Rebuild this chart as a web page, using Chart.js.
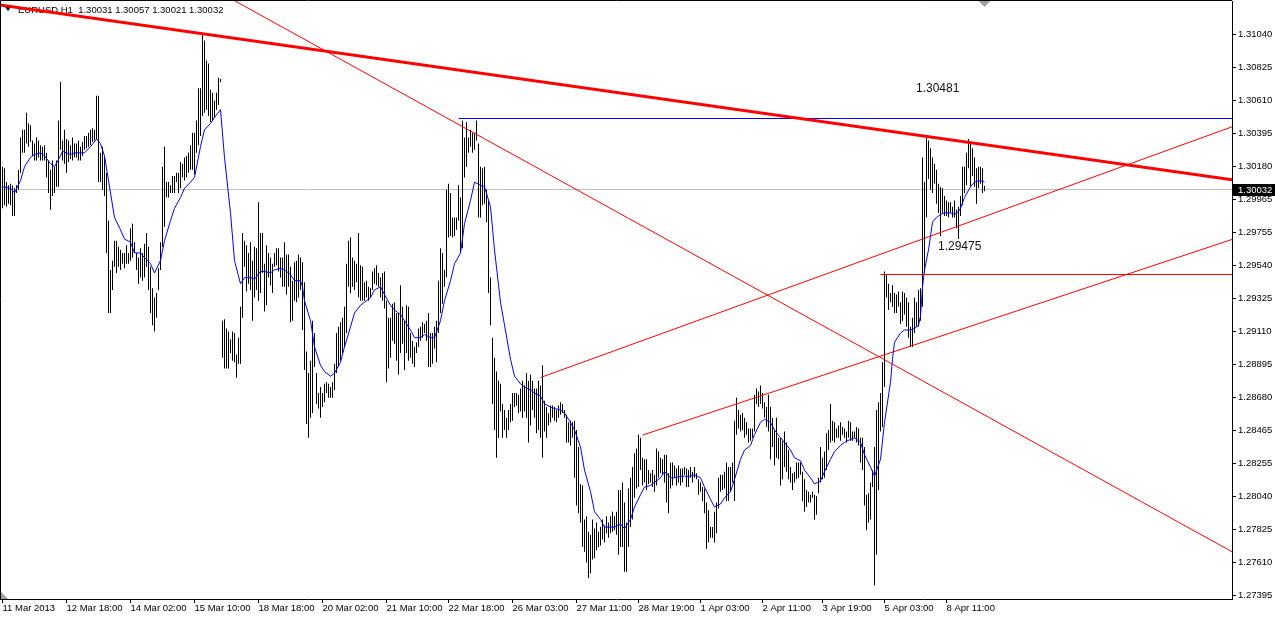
<!DOCTYPE html>
<html>
<head>
<meta charset="utf-8">
<title>EURUSD,H1</title>
<script src="https://cdn.jsdelivr.net/npm/chart.js@4.4.1/dist/chart.umd.min.js"></script>
<style>
  html, body { margin: 0; padding: 0; background: #fff; }
  #wrap { width: 1275px; height: 617px; }
</style>
</head>
<body>
<div id="wrap"><canvas id="chart" width="1275" height="617"></canvas></div>
<script>
const symbol = "EURUSD,H1";
// open, high, low, close of the last bar
const lastOHLC = [1.30031, 1.30057, 1.30021, 1.30032];

// hourly bars, index 0 = 11 Mar 2013 00:00
const highs = [
    1.3018, 1.3017, 1.3008, 1.3006, 1.3007, 1.3006, 1.3004, 1.3006, 1.3016, 1.3037,
    1.3042, 1.3042, 1.3053, 1.3046, 1.3045, 1.3035, 1.3033, 1.3037, 1.3035, 1.3032,
    1.3031, 1.3032, 1.3027, 1.3022, 1.3016, 1.3022, 1.3018, 1.3022, 1.3048, 1.3073,
    1.3035, 1.3042, 1.3036, 1.3035, 1.3032, 1.3037, 1.3033, 1.3033, 1.3035, 1.3031,
    1.3034, 1.3038, 1.3038, 1.3040, 1.3042, 1.3043, 1.3042, 1.3064, 1.3064, 1.3027,
    1.3031, 1.3024, 1.3014, 1.2983, 1.2951, 1.2957, 1.2970, 1.2970, 1.2966, 1.2964,
    1.2962, 1.2962, 1.2967, 1.2962, 1.2978, 1.2981, 1.2969, 1.2962, 1.2959, 1.2965,
    1.2962, 1.2968, 1.2975, 1.2966, 1.2953, 1.2939, 1.2933, 1.2936, 1.2952, 1.2969,
    1.3018, 1.3031, 1.3008, 1.3008, 1.3006, 1.3012, 1.3012, 1.3014, 1.3014, 1.3021,
    1.3020, 1.3024, 1.3025, 1.3027, 1.3032, 1.3040, 1.3040, 1.3048, 1.3069, 1.3069,
    1.3104, 1.3100, 1.3087, 1.3085, 1.3068, 1.3066, 1.3061, 1.3066, 1.3076, 1.3075,
    1.2918, 1.2919, 1.2913, 1.2911, 1.2906, 1.2911, 1.2910, 1.2896, 1.2907, 1.2927,
    1.2975, 1.2970, 1.2967, 1.2962, 1.2969, 1.2957, 1.2966, 1.2965, 1.2995, 1.2975,
    1.2975, 1.2955, 1.2967, 1.2962, 1.2959, 1.2955, 1.2962, 1.2965, 1.2965, 1.2959,
    1.2959, 1.2969, 1.2961, 1.2961, 1.2953, 1.2944, 1.2956, 1.2957, 1.2961, 1.2959,
    1.2956, 1.2943, 1.2898, 1.2884, 1.2892, 1.2918, 1.2910, 1.2884, 1.2871, 1.2875,
    1.2871, 1.2877, 1.2878, 1.2877, 1.2875, 1.2878, 1.2890, 1.2910, 1.2914, 1.2917,
    1.2920, 1.2927, 1.2955, 1.2970, 1.2972, 1.2959, 1.2957, 1.2955, 1.2975, 1.2954,
    1.2953, 1.2943, 1.2944, 1.2940, 1.2939, 1.2950, 1.2952, 1.2954, 1.2949, 1.2946,
    1.2949, 1.2950, 1.2931, 1.2920, 1.2920, 1.2929, 1.2930, 1.2923, 1.2923, 1.2941,
    1.2927, 1.2918, 1.2928, 1.2927, 1.2910, 1.2905, 1.2901, 1.2904, 1.2913, 1.2914,
    1.2917, 1.2916, 1.2918, 1.2923, 1.2910, 1.2910, 1.2914, 1.2918, 1.2944, 1.2965,
    1.2962, 1.2951, 1.3003, 1.3007, 1.3001, 1.2985, 1.2985, 1.2985, 1.3006, 1.2998,
    1.3048, 1.3037, 1.3047, 1.3037, 1.3042, 1.3040, 1.3040, 1.3048, 1.3033, 1.3018,
    1.3017, 1.3018, 1.3003, 1.2996, 1.2946, 1.2907, 1.2894, 1.2885, 1.2879, 1.2877,
    1.2864, 1.2860, 1.2855, 1.2860, 1.2864, 1.2871, 1.2871, 1.2871, 1.2870, 1.2874,
    1.2879, 1.2876, 1.2884, 1.2879, 1.2883, 1.2879, 1.2874, 1.2874, 1.2879, 1.2876,
    1.2889, 1.2866, 1.2862, 1.2858, 1.2863, 1.2863, 1.2862, 1.2860, 1.2863, 1.2865,
    1.2864, 1.2860, 1.2857, 1.2852, 1.2853, 1.2852, 1.2853, 1.2847, 1.2836, 1.2812,
    1.2811, 1.2789, 1.2791, 1.2781, 1.2779, 1.2789, 1.2783, 1.2787, 1.2781, 1.2784,
    1.2789, 1.2785, 1.2791, 1.2787, 1.2791, 1.2794, 1.2791, 1.2794, 1.2808, 1.2808,
    1.2813, 1.2800, 1.2787, 1.2809, 1.2816, 1.2823, 1.2832, 1.2835, 1.2844, 1.2842,
    1.2829, 1.2828, 1.2828, 1.2821, 1.2819, 1.2821, 1.2818, 1.2835, 1.2833, 1.2829,
    1.2828, 1.2831, 1.2831, 1.2819, 1.2826, 1.2826, 1.2824, 1.2822, 1.2824, 1.2822,
    1.2822, 1.2823, 1.2822, 1.2821, 1.2823, 1.2820, 1.2823, 1.2819, 1.2815, 1.2813,
    1.2810, 1.2809, 1.2800, 1.2795, 1.2784, 1.2784, 1.2794, 1.2800, 1.2816, 1.2818,
    1.2818, 1.2820, 1.2826, 1.2823, 1.2823, 1.2826, 1.2853, 1.2868, 1.2860, 1.2857,
    1.2858, 1.2855, 1.2852, 1.2848, 1.2848, 1.2848, 1.2870, 1.2874, 1.2872, 1.2876,
    1.2871, 1.2865, 1.2862, 1.2870, 1.2862, 1.2855, 1.2847, 1.2855, 1.2842, 1.2842,
    1.2840, 1.2846, 1.2839, 1.2834, 1.2823, 1.2819, 1.2820, 1.2826, 1.2826, 1.2826,
    1.2820, 1.2815, 1.2808, 1.2807, 1.2805, 1.2807, 1.2805, 1.2804, 1.2816, 1.2836,
    1.2829, 1.2833, 1.2845, 1.2847, 1.2864, 1.2853, 1.2852, 1.2848, 1.2850, 1.2852,
    1.2849, 1.2848, 1.2846, 1.2853, 1.2852, 1.2846, 1.2846, 1.2849, 1.2848, 1.2842,
    1.2842, 1.2836, 1.2805, 1.2806, 1.2813, 1.2821, 1.2836, 1.2860, 1.2865, 1.2871,
    1.2891, 1.2950, 1.2948, 1.2942, 1.2936, 1.2941, 1.2936, 1.2935, 1.2937, 1.2930,
    1.2937, 1.2936, 1.2933, 1.2930, 1.2914, 1.2920, 1.2933, 1.2930, 1.2938, 1.2939,
    1.3024, 1.3008, 1.3038, 1.3035, 1.3030, 1.3024, 1.3020, 1.3016, 1.3007, 1.3005,
    1.3004, 1.2999, 1.2996, 1.2995, 1.2995, 1.2992, 1.2996, 1.2990, 1.2992, 1.2999,
    1.3018, 1.3018, 1.3027, 1.3036, 1.3033, 1.3030, 1.3024, 1.3017, 1.3018, 1.3018,
    1.3017, 1.30057
];
const lows = [
    1.2991, 1.2993, 1.2992, 1.2994, 1.2993, 1.2986, 1.2986, 1.3001, 1.3003, 1.3014,
    1.3027, 1.3027, 1.3033, 1.3031, 1.3034, 1.3025, 1.3022, 1.3022, 1.3024, 1.3022,
    1.3022, 1.3022, 1.3011, 1.3001, 1.2990, 1.2999, 1.3001, 1.3005, 1.3005, 1.3029,
    1.3022, 1.3020, 1.3014, 1.3021, 1.3023, 1.3022, 1.3024, 1.3024, 1.3022, 1.3022,
    1.3025, 1.3029, 1.3030, 1.3031, 1.3032, 1.3034, 1.3035, 1.3036, 1.3008, 1.3008,
    1.3003, 1.2999, 1.2962, 1.2923, 1.2923, 1.2938, 1.2953, 1.2949, 1.2953, 1.2951,
    1.2955, 1.2952, 1.2955, 1.2955, 1.2957, 1.2959, 1.2962, 1.2951, 1.2942, 1.2946,
    1.2944, 1.2946, 1.2953, 1.2938, 1.2923, 1.2915, 1.2911, 1.2920, 1.2938, 1.2951,
    1.2966, 1.2979, 1.2998, 1.2998, 1.3001, 1.3001, 1.3001, 1.3008, 1.3001, 1.3004,
    1.3011, 1.3009, 1.3011, 1.3014, 1.3016, 1.3016, 1.3013, 1.3027, 1.3032, 1.3038,
    1.3051, 1.3053, 1.3055, 1.3051, 1.3047, 1.3048, 1.3050, 1.3055, 1.3058, 1.3073,
    1.2894, 1.2887, 1.2887, 1.2887, 1.2897, 1.2892, 1.2891, 1.2881, 1.2890, 1.2890,
    1.2920, 1.2953, 1.2937, 1.2942, 1.2938, 1.2918, 1.2933, 1.2938, 1.2931, 1.2936,
    1.2949, 1.2924, 1.2928, 1.2946, 1.2941, 1.2936, 1.2953, 1.2954, 1.2950, 1.2946,
    1.2940, 1.2940, 1.2935, 1.2940, 1.2917, 1.2918, 1.2931, 1.2930, 1.2933, 1.2938,
    1.2912, 1.2886, 1.2851, 1.2842, 1.2855, 1.2858, 1.2888, 1.2864, 1.2861, 1.2855,
    1.2862, 1.2865, 1.2871, 1.2868, 1.2868, 1.2868, 1.2873, 1.2884, 1.2888, 1.2892,
    1.2897, 1.2901, 1.2910, 1.2940, 1.2936, 1.2940, 1.2938, 1.2943, 1.2933, 1.2931,
    1.2931, 1.2931, 1.2933, 1.2931, 1.2933, 1.2938, 1.2942, 1.2941, 1.2940, 1.2933,
    1.2931, 1.2926, 1.2878, 1.2887, 1.2894, 1.2905, 1.2903, 1.2892, 1.2883, 1.2897,
    1.2903, 1.2886, 1.2897, 1.2892, 1.2894, 1.2890, 1.2888, 1.2897, 1.2901, 1.2905,
    1.2907, 1.2910, 1.2905, 1.2888, 1.2888, 1.2890, 1.2900, 1.2891, 1.2910, 1.2923,
    1.2929, 1.2940, 1.2946, 1.2972, 1.2973, 1.2972, 1.2973, 1.2977, 1.2983, 1.2962,
    1.2965, 1.3011, 1.3018, 1.3027, 1.3031, 1.3027, 1.3029, 1.3035, 1.2985, 1.2985,
    1.2993, 1.2994, 1.2982, 1.2936, 1.2915, 1.2864, 1.2847, 1.2829, 1.2842, 1.2859,
    1.2842, 1.2847, 1.2842, 1.2847, 1.2852, 1.2853, 1.2862, 1.2863, 1.2858, 1.2859,
    1.2855, 1.2859, 1.2855, 1.2839, 1.2850, 1.2860, 1.2855, 1.2845, 1.2847, 1.2842,
    1.2829, 1.2846, 1.2842, 1.2850, 1.2852, 1.2855, 1.2853, 1.2852, 1.2855, 1.2857,
    1.2858, 1.2855, 1.2839, 1.2839, 1.2837, 1.2842, 1.2816, 1.2798, 1.2793, 1.2787,
    1.2771, 1.2768, 1.2761, 1.2751, 1.2754, 1.2763, 1.2764, 1.2769, 1.2771, 1.2772,
    1.2776, 1.2774, 1.2780, 1.2777, 1.2780, 1.2781, 1.2782, 1.2779, 1.2766, 1.2771,
    1.2771, 1.2755, 1.2755, 1.2771, 1.2784, 1.2789, 1.2803, 1.2809, 1.2810, 1.2821,
    1.2811, 1.2813, 1.2808, 1.2812, 1.2813, 1.2810, 1.2807, 1.2811, 1.2816, 1.2819,
    1.2818, 1.2813, 1.2800, 1.2793, 1.2809, 1.2811, 1.2816, 1.2811, 1.2813, 1.2811,
    1.2813, 1.2818, 1.2810, 1.2810, 1.2816, 1.2813, 1.2816, 1.2815, 1.2805, 1.2807,
    1.2801, 1.2793, 1.2770, 1.2774, 1.2777, 1.2777, 1.2774, 1.2780, 1.2796, 1.2807,
    1.2808, 1.2809, 1.2801, 1.2801, 1.2807, 1.2813, 1.2801, 1.2844, 1.2848, 1.2846,
    1.2847, 1.2842, 1.2844, 1.2839, 1.2840, 1.2842, 1.2846, 1.2864, 1.2862, 1.2864,
    1.2861, 1.2855, 1.2849, 1.2846, 1.2828, 1.2836, 1.2824, 1.2829, 1.2828, 1.2811,
    1.2815, 1.2823, 1.2820, 1.2815, 1.2813, 1.2808, 1.2813, 1.2815, 1.2816, 1.2818,
    1.2801, 1.2794, 1.2797, 1.2800, 1.2800, 1.2803, 1.2789, 1.2792, 1.2806, 1.2813,
    1.2815, 1.2816, 1.2821, 1.2834, 1.2839, 1.2840, 1.2839, 1.2842, 1.2842, 1.2840,
    1.2844, 1.2842, 1.2839, 1.2842, 1.2840, 1.2840, 1.2842, 1.2839, 1.2837, 1.2826,
    1.2821, 1.2798, 1.2782, 1.2787, 1.2789, 1.2810, 1.2746, 1.2766, 1.2808, 1.2846,
    1.2849, 1.2875, 1.2933, 1.2925, 1.2930, 1.2927, 1.2923, 1.2923, 1.2927, 1.2916,
    1.2918, 1.2922, 1.2914, 1.2907, 1.2901, 1.2901, 1.2910, 1.2914, 1.2914, 1.2918,
    1.2927, 1.2949, 1.2985, 1.3010, 1.3003, 1.3001, 1.3007, 1.2994, 1.2988, 1.2973,
    1.2988, 1.2986, 1.2986, 1.2985, 1.2988, 1.2985, 1.2985, 1.2978, 1.2971, 1.2986,
    1.2993, 1.3001, 1.3006, 1.3017, 1.3005, 1.3012, 1.3005, 1.2994, 1.3004, 1.3007,
    1.3001, 1.30021
];

// moving average read at these bar indexes
const maIdx = [
    0, 4, 6, 9, 11, 14, 16, 19, 21, 24,
    26, 29, 30, 34, 36, 39, 41, 44, 47, 49,
    51, 54, 56, 59, 61, 64, 66, 69, 71, 74,
    76, 79, 81, 84, 86, 89, 91, 94, 96, 99,
    101, 104, 106, 109, 111, 114, 116, 119, 121, 124,
    126, 129, 131, 134, 136, 139, 141, 144, 146, 149,
    150, 151, 154, 156, 159, 161, 164, 166, 169, 171,
    174, 176, 179, 181, 184, 186, 189, 191, 194, 196,
    199, 201, 204, 206, 209, 211, 214, 216, 219, 221,
    224, 226, 229, 231, 234, 236, 239, 241, 244, 246,
    249, 254, 256, 259, 261, 264, 266, 269, 271, 274,
    276, 279, 281, 284, 286, 289, 291, 294, 296, 299,
    301, 304, 306, 309, 311, 314, 316, 319, 321, 324,
    326, 329, 331, 334, 336, 339, 341, 344, 346, 349,
    351, 354, 356, 359, 361, 364, 366, 369, 371, 374,
    376, 379, 381, 384, 386, 389, 391, 394, 396, 399,
    401, 404, 406, 409, 411, 414, 416, 419, 421, 424,
    426, 429, 431, 434, 436, 439, 441, 444, 445, 446,
    449, 451, 454, 456, 458, 459, 460, 461, 463, 464,
    465, 467, 469, 471, 474, 476, 478, 479, 481, 484,
    486, 489, 491
];
const maVal = [
    1.3005, 1.3004, 1.3001, 1.3009, 1.3018, 1.3024, 1.3026, 1.3027, 1.3025, 1.3020,
    1.3018, 1.3025, 1.3028, 1.3026, 1.3027, 1.3027, 1.3027, 1.3031, 1.3036, 1.3033,
    1.3025, 1.3001, 1.2985, 1.2977, 1.2971, 1.2969, 1.2962, 1.2962, 1.2959, 1.2955,
    1.2949, 1.2957, 1.2970, 1.2983, 1.2991, 1.2998, 1.3004, 1.3008, 1.3011, 1.3031,
    1.3042, 1.3046, 1.3050, 1.3055, 1.3024, 1.2988, 1.2957, 1.2942, 1.2946, 1.2946,
    1.2945, 1.2950, 1.2950, 1.2949, 1.2951, 1.2952, 1.2951, 1.2948, 1.2944, 1.2944,
    1.2940, 1.2931, 1.2918, 1.2901, 1.2889, 1.2885, 1.2882, 1.2884, 1.2891, 1.2901,
    1.2914, 1.2923, 1.2928, 1.2930, 1.2933, 1.2938, 1.2940, 1.2935, 1.2928, 1.2925,
    1.2922, 1.2918, 1.2912, 1.2907, 1.2907, 1.2909, 1.2907, 1.2907, 1.2918, 1.2931,
    1.2944, 1.2955, 1.2962, 1.2981, 1.2996, 1.3008, 1.3006, 1.3005, 1.2992, 1.2964,
    1.2930, 1.2893, 1.2882, 1.2877, 1.2875, 1.2873, 1.2871, 1.2869, 1.2864, 1.2862,
    1.2861, 1.2860, 1.2858, 1.2852, 1.2847, 1.2836, 1.2821, 1.2807, 1.2794, 1.2789,
    1.2784, 1.2784, 1.2784, 1.2786, 1.2783, 1.2789, 1.2797, 1.2805, 1.2810, 1.2811,
    1.2813, 1.2816, 1.2820, 1.2816, 1.2816, 1.2817, 1.2817, 1.2817, 1.2818, 1.2816,
    1.2810, 1.2802, 1.2797, 1.2799, 1.2803, 1.2807, 1.2815, 1.2828, 1.2834, 1.2837,
    1.2844, 1.2852, 1.2854, 1.2852, 1.2847, 1.2842, 1.2839, 1.2834, 1.2829, 1.2827,
    1.2821, 1.2816, 1.2812, 1.2814, 1.2820, 1.2828, 1.2833, 1.2837, 1.2839, 1.2841,
    1.2842, 1.2839, 1.2831, 1.2823, 1.2817, 1.2828, 1.2852, 1.2878, 1.2893, 1.2904,
    1.2910, 1.2912, 1.2912, 1.2913, 1.2915, 1.2921, 1.2940, 1.2951, 1.2964, 1.2973,
    1.2982, 1.2985, 1.2987, 1.2988, 1.2988, 1.2987, 1.2989, 1.2991, 1.2998, 1.3005,
    1.3008, 1.3009, 1.3008
];

const priceTicks = [
    1.31040, 1.30825, 1.30610, 1.30395, 1.30180, 1.29965, 1.29755, 1.29540, 1.29325,
    1.29110, 1.28895, 1.28680, 1.28465, 1.28255, 1.28040, 1.27825, 1.27610, 1.27395
];
const dateTickIdx = [0, 32, 64, 96, 128, 160, 192, 223, 255, 287, 318, 349, 380, 410, 441, 472];
const dateLabels = [
    "11 Mar 2013", "12 Mar 18:00", "14 Mar 02:00", "15 Mar 10:00", "18 Mar 18:00",
    "20 Mar 02:00", "21 Mar 10:00", "22 Mar 18:00", "26 Mar 03:00", "27 Mar 11:00",
    "28 Mar 19:00", "1 Apr 03:00", "2 Apr 11:00", "3 Apr 19:00", "5 Apr 03:00", "8 Apr 11:00"
];

// drawn objects: [fromIdx, fromPrice, toIdx, toPrice]
const mainTrend = [-2, 1.31232, 616, 1.30093];
const fallLine = [100, 1.31373, 616, 1.27671];
const upperRise = [269, 1.28811, 616, 1.30445];
const lowerRise = [320, 1.28437, 616, 1.29713];
const highLevel = [228, 1.30493, 616, 1.30493];
const lowLevel = [439, 1.29480, 616, 1.29480];
const bidLine = [-2, 1.30032, 616, 1.30032];
const notes = [
    { text: "1.30481", idx: 456.75, price: 1.30685 },
    { text: "1.29475", idx: 467.75, price: 1.29662 }
];

const bars = highs.map((h, i) => ({ x: i, y: [lows[i], h] }));
const maPoints = maIdx.map((v, k) => ({ x: v, y: maVal[k] }));
const seg = (s) => [{ x: s[0], y: s[1] }, { x: s[2], y: s[3] }];

Chart.defaults.font.family = "'Liberation Sans', Arial, sans-serif";
Chart.defaults.font.size = 9.5;
Chart.defaults.color = "#000";

// title, frame, text objects and the bid label
const terminalLook = {
    id: "terminalLook",
    beforeDatasetsDraw(chart) {
        const ctx = chart.ctx;
        ctx.save();
        ctx.fillStyle = "#000";
        ctx.beginPath();
        ctx.moveTo(5, 7);
        ctx.lineTo(11, 7);
        ctx.lineTo(8, 11);
        ctx.closePath();
        ctx.fill();
        ctx.font = "9.5px 'Liberation Sans', Arial, sans-serif";
        ctx.textBaseline = "middle";
        ctx.fillText(symbol + "  " + lastOHLC.map((v) => v.toFixed(5)).join(" "), 18, 10);
        ctx.restore();
    },
    afterDraw(chart) {
        const { ctx, chartArea, scales } = chart;
        const xs = scales.x;
        const ys = scales.y;
        ctx.save();
        ctx.strokeStyle = "#000";
        ctx.lineWidth = 1;
        ctx.beginPath();
        ctx.moveTo(0.5, chartArea.bottom);
        ctx.lineTo(0.5, 0.5);
        ctx.lineTo(chartArea.right, 0.5);
        ctx.stroke();

        ctx.fillStyle = "#111";
        ctx.font = "12px 'Liberation Sans', Arial, sans-serif";
        ctx.textAlign = "left";
        ctx.textBaseline = "middle";
        notes.forEach((n) => {
            ctx.fillText(n.text, xs.getPixelForValue(n.idx), ys.getPixelForValue(n.price));
        });

        // shift markers
        ctx.fillStyle = "#a0a0a0";
        const sx = xs.getPixelForValue(highs.length - 1);
        ctx.beginPath();
        ctx.moveTo(sx - 6, 1);
        ctx.lineTo(sx + 6, 1);
        ctx.lineTo(sx, 7);
        ctx.fill();
        ctx.beginPath();
        ctx.moveTo(1, chartArea.bottom - 7);
        ctx.lineTo(1, chartArea.bottom);
        ctx.lineTo(8, chartArea.bottom);
        ctx.fill();

        const py = Math.round(ys.getPixelForValue(lastOHLC[3]));
        ctx.fillStyle = "#000";
        ctx.fillRect(chartArea.right + 1, py - 6, chart.width - chartArea.right - 1, 12);
        ctx.fillStyle = "#fff";
        ctx.font = "9.5px 'Liberation Sans', Arial, sans-serif";
        ctx.fillText(lastOHLC[3].toFixed(5), chartArea.right + 6, py);
        ctx.restore();
    }
};

const lineSet = (data, color, width, order) => ({
    type: "line",
    data: data,
    borderColor: color,
    borderWidth: width,
    pointRadius: 0,
    tension: 0,
    fill: false,
    clip: 0,
    order: order
});

new Chart(document.getElementById("chart"), {
    type: "bar",
    data: {
        datasets: [
            lineSet(seg(bidLine), "#c0c0c0", 1, 9),
            {
                type: "bar",
                data: bars,
                backgroundColor: "#000",
                borderWidth: 0,
                barThickness: 1,
                inflateAmount: 0,
                grouped: false,
                order: 8
            },
            lineSet(maPoints, "#0000ff", 1, 7),
            lineSet(seg(highLevel), "#0000ff", 1, 6),
            lineSet(seg(lowLevel), "#ff0000", 1, 5),
            lineSet(seg(fallLine), "#ff0000", 1, 4),
            lineSet(seg(upperRise), "#ff0000", 1, 3),
            lineSet(seg(lowerRise), "#ff0000", 1, 2),
            lineSet(seg(mainTrend), "#ff0000", 3, 1)
        ]
    },
    options: {
        responsive: false,
        devicePixelRatio: 1,
        animation: false,
        events: [],
        layout: { padding: { top: 1, left: 0, right: 0, bottom: 0 } },
        plugins: {
            legend: { display: false },
            tooltip: { enabled: false }
        },
        scales: {
            x: {
                type: "linear",
                min: -1.25,
                max: 614.75,
                offset: false,
                afterBuildTicks: (axis) => {
                    axis.ticks = dateTickIdx.map((v) => ({ value: v }));
                },
                afterFit: (axis) => {
                    axis.height = 18;
                    axis.paddingLeft = 0;
                    axis.paddingRight = 0;
                },
                ticks: {
                    autoSkip: false,
                    maxRotation: 0,
                    minRotation: 0,
                    align: "start",
                    padding: 0,
                    color: "#000",
                    callback: (v, i) => dateLabels[i]
                },
                grid: {
                    display: true,
                    offset: false,
                    drawOnChartArea: false,
                    drawTicks: true,
                    tickLength: 4,
                    color: "#000"
                },
                border: { display: true, color: "#000" }
            },
            y: {
                position: "right",
                min: 1.27373,
                max: 1.31256,
                afterBuildTicks: (axis) => {
                    axis.ticks = priceTicks.map((v) => ({ value: v }));
                },
                afterFit: (axis) => {
                    axis.width = 43;
                    axis.paddingTop = 0;
                    axis.paddingBottom = 0;
                },
                ticks: {
                    autoSkip: false,
                    padding: 2,
                    color: "#000",
                    callback: (v) => v.toFixed(5)
                },
                grid: {
                    drawOnChartArea: false,
                    drawTicks: true,
                    tickLength: 4,
                    color: "#000"
                },
                border: { display: true, color: "#000" }
            }
        }
    },
    plugins: [terminalLook]
});
</script>
</body>
</html>
